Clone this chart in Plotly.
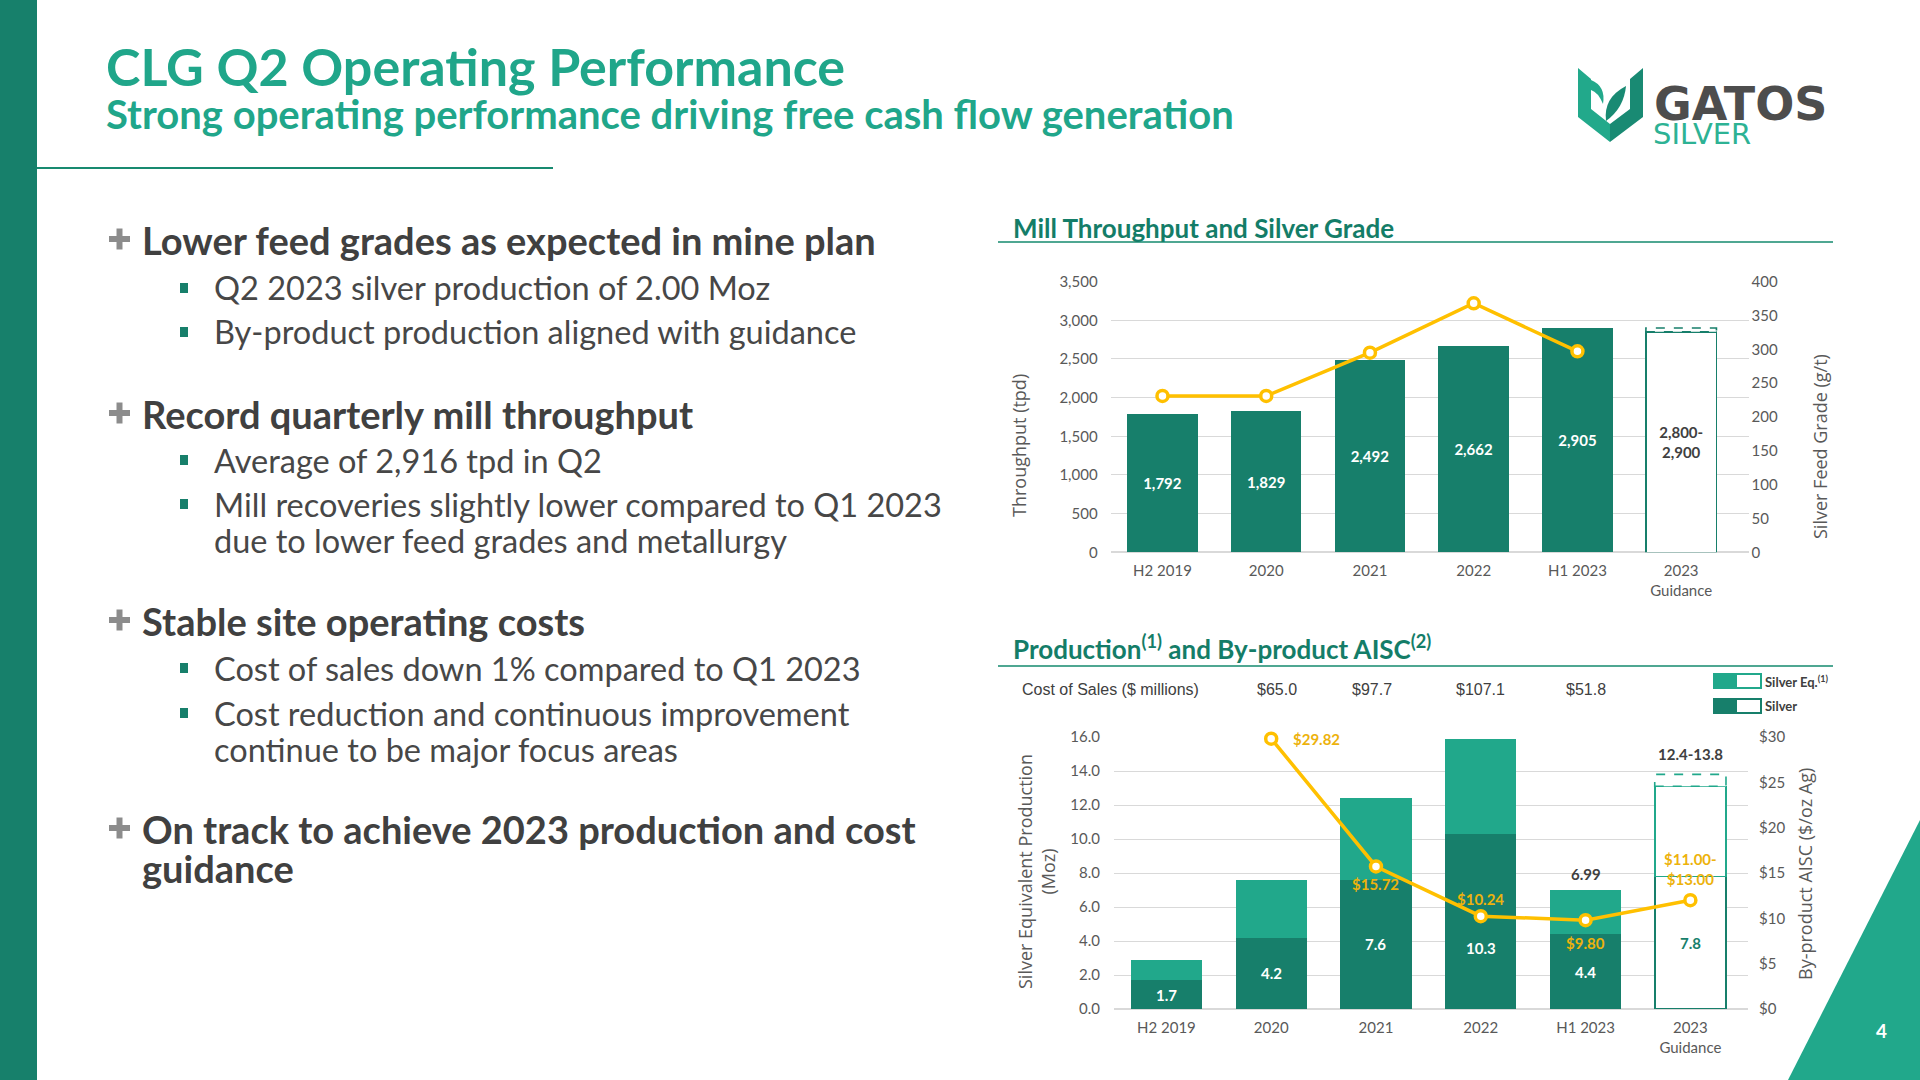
import plotly.graph_objects as go

W, H = 1920, 1080

# ---------------- data ----------------
categories = ["H2 2019", "2020", "2021", "2022", "H1 2023", "2023 Guidance"]
cat_ticktext = ["H2 2019", "2020", "2021", "2022", "H1 2023", "2023<br>Guidance"]

throughput = [1792, 1829, 2492, 2662, 2905]          # tpd
throughput_guidance = [2800, 2900]
silver_grade = [231, 231, 295, 368, 297]             # g/t

silver_eq = [2.9, 7.6, 12.4, 15.9, 6.99]             # Moz
silver = [1.7, 4.2, 7.6, 10.3, 4.4]                  # Moz
silver_eq_guidance = [12.4, 13.8]
silver_guidance = 7.8

aisc_cats = ["2020", "2021", "2022", "H1 2023"]
aisc = [29.82, 15.72, 10.24, 9.80]                   # $/oz Ag
aisc_guidance = [11.00, 13.00]

cost_cats = ["2020", "2021", "2022", "H1 2023"]
cost_of_sales = [65.0, 97.7, 107.1, 51.8]            # $ millions

# ---------------- styles ----------------
DARK = "#177F6B"
LIGHT = "#21A88B"
GOLD = "#FFC000"
GOLD_TXT = "#EDB20C"
GRID = "#D9D9D9"
AX_TXT = "#595959"
BODY = "#404040"
FONT = "Lato, sans-serif"
BAR_W = 0.68


def px(x):
    return x / W


def py(y):
    return 1 - y / H


def ci(c):
    return categories.index(c)


fig = go.Figure()

# ---------------- top chart ----------------
tp_mid = sum(throughput_guidance) / 2
top_y = throughput + [tp_mid]
top_text = [f"{v:,}" for v in throughput] + [f"{throughput_guidance[0]:,}-<br>{throughput_guidance[1]:,}"]
n = len(throughput)
fig.add_trace(go.Bar(
    x=list(range(len(categories))), y=top_y, width=BAR_W, xaxis="x", yaxis="y",
    marker=dict(color=[DARK] * n + ["white"],
                line=dict(color=[DARK] * (n + 1), width=[0] * n + [1.6])),
    text=top_text, textposition="inside", insidetextanchor="middle", textangle=0,
    textfont=dict(family=FONT, size=15, weight="bold", color=["white"] * n + [BODY]),
    showlegend=False, hoverinfo="skip"))

fig.add_trace(go.Scatter(
    x=list(range(len(silver_grade))), y=silver_grade, xaxis="x", yaxis="y2",
    mode="lines+markers", line=dict(color=GOLD, width=3.5), cliponaxis=False,
    marker=dict(symbol="circle", size=11, color="white", line=dict(color=GOLD, width=3.5)),
    showlegend=False, hoverinfo="skip"))

# ---------------- bottom chart ----------------
seq_mid = sum(silver_eq_guidance) / 2
silver_all = silver + [silver_guidance]
rem_all = [round(t - s, 3) for t, s in zip(silver_eq, silver)] + [round(seq_mid - silver_guidance, 3)]
m = len(silver)
fig.add_trace(go.Bar(
    x=list(range(len(categories))), y=silver_all, width=BAR_W, xaxis="x2", yaxis="y3",
    marker=dict(color=[DARK] * m + ["white"],
                line=dict(color=[DARK] * (m + 1), width=[0] * m + [1.6])),
    showlegend=False, hoverinfo="skip"))
fig.add_trace(go.Bar(
    x=list(range(len(categories))), y=rem_all, width=BAR_W, xaxis="x2", yaxis="y3",
    marker=dict(color=[LIGHT] * m + ["white"],
                line=dict(color=[LIGHT] * (m + 1), width=[0] * m + [1.6])),
    showlegend=False, hoverinfo="skip"))

aisc_mid = sum(aisc_guidance) / 2
fig.add_trace(go.Scatter(
    x=[ci(c) for c in aisc_cats] + [ci(categories[-1])], y=aisc + [aisc_mid], xaxis="x2", yaxis="y4",
    mode="lines+markers", line=dict(color=GOLD, width=3.5), cliponaxis=False,
    marker=dict(symbol="circle", size=11, color="white", line=dict(color=GOLD, width=3.5)),
    showlegend=False, hoverinfo="skip"))

shapes = []
annotations = []


def ann(**kw):
    kw.setdefault("showarrow", False)
    kw.setdefault("xanchor", "center")
    kw.setdefault("yanchor", "middle")
    kw.setdefault("xref", "paper")
    kw.setdefault("yref", "paper")
    annotations.append(kw)


# dashed guidance extensions
gi = len(categories) - 1
shapes.append(dict(type="rect", xref="x", yref="y", x0=gi - BAR_W / 2, x1=gi + BAR_W / 2,
                   y0=tp_mid, y1=throughput_guidance[1],
                   line=dict(color=DARK, width=1.6, dash="dash"), fillcolor="white"))
shapes.append(dict(type="rect", xref="x2", yref="y3", x0=gi - BAR_W / 2, x1=gi + BAR_W / 2,
                   y0=seq_mid, y1=silver_eq_guidance[1],
                   line=dict(color=LIGHT, width=1.6, dash="dash"), fillcolor="white"))

# silver labels
label_nudge = {"2022": -27}
for c, s in zip(categories, silver_all):
    ann(x=ci(c), y=s / 2, xref="x2", yref="y3", text=f"<b>{s:.1f}</b>",
        yshift=label_nudge.get(c, 0),
        font=dict(family=FONT, size=15, color=DARK if c == categories[-1] else "white"))
ann(x=ci(categories[4]), y=silver_eq[4], xref="x2", yref="y3",
    text=f"<b>{silver_eq[4]:.2f}</b>", yanchor="bottom", yshift=5,
    font=dict(family=FONT, size=15, color=BODY))
ann(x=gi, y=silver_eq_guidance[1], xref="x2", yref="y3",
    text=f"<b>{silver_eq_guidance[0]}-{silver_eq_guidance[1]}</b>",
    yanchor="bottom", yshift=9, font=dict(family=FONT, size=15, color=BODY))

# AISC labels
aisc_off = {"2020": (20, 0, "left"), "2021": (0, -18, "center"), "2022": (0, 17, "center"),
            "H1 2023": (0, -23, "center")}
for c, v in zip(aisc_cats, aisc):
    xs, ys, xa = aisc_off[c]
    ann(x=ci(c), y=v, xref="x2", yref="y4", text=f"<b>${v:.2f}</b>",
        xanchor=xa, xshift=xs, yshift=ys, font=dict(family=FONT, size=15, color=GOLD_TXT))
ann(x=gi, y=aisc_mid, xref="x2", yref="y4",
    text=f"<b>${aisc_guidance[0]:.2f}-<br>${aisc_guidance[1]:.2f}</b>",
    yshift=31, font=dict(family=FONT, size=15, color=GOLD_TXT))

# cost of sales row
ann(x=px(1020), y=py(689), xanchor="left", text="Cost of Sales ($ millions)",
    font=dict(family="Liberation Sans, Arial", size=16, color=BODY))
cost_shift = {"2020": 6, "2021": -4}
for c, v in zip(cost_cats, cost_of_sales):
    ann(x=ci(c), y=py(689), xref="x2", text=f"${v:.1f}", xshift=cost_shift.get(c, 0),
        font=dict(family="Liberation Sans, Arial", size=16, color=BODY))

# legend (custom)
for (yy, col, lab) in [(681, LIGHT, "Silver Eq.<sup>(1)</sup>"), (706, DARK, "Silver")]:
    shapes.append(dict(type="rect", xref="paper", yref="paper", x0=px(1714), x1=px(1737),
                       y0=py(yy + 7), y1=py(yy - 7), fillcolor=col, line=dict(width=0)))
    shapes.append(dict(type="rect", xref="paper", yref="paper", x0=px(1714), x1=px(1761),
                       y0=py(yy + 7), y1=py(yy - 7), fillcolor="rgba(0,0,0,0)", line=dict(color=col, width=2)))
    ann(x=px(1763), y=py(yy), xanchor="left", text=f"<b>{lab}</b>",
        font=dict(family=FONT, size=13, color=BODY))

# axis titles
for (x, y, t) in [(1019, 446, "Throughput (tpd)"), (1820, 447, "Silver Feed Grade (g/t)"),
                  (1036, 872, "Silver Equivalent Production<br>(Moz)"), (1805, 874, "By-product AISC ($/oz Ag)")]:
    ann(x=px(x), y=py(y), text=t, textangle=-90,
        font=dict(family="Open Sans, sans-serif", size=18, color=AX_TXT))

# chart headings + underlines
ann(x=px(1011), y=py(228), xanchor="left", text="<b>Mill Throughput and Silver Grade</b>",
    font=dict(family=FONT, size=26, color="#147D68"))
ann(x=px(1011), y=py(647), xanchor="left",
    text="<b>Production<sup>(1)</sup> and By-product AISC<sup>(2)</sup></b>",
    font=dict(family=FONT, size=26, color="#147D68"))
for yy in (242, 666):
    shapes.append(dict(type="line", xref="paper", yref="paper", x0=px(998), x1=px(1833), y0=py(yy), y1=py(yy),
                       line=dict(color="#4FA792", width=2)))

# ---------------- slide decoration ----------------
shapes.append(dict(type="rect", xref="paper", yref="paper", x0=0, x1=px(37), y0=0, y1=1,
                   fillcolor="#17806B", line=dict(width=0)))
shapes.append(dict(type="line", xref="paper", yref="paper", x0=px(37), x1=px(553), y0=py(168), y1=py(168),
                   line=dict(color="#188A70", width=2)))
ann(x=px(104), y=py(66), xanchor="left", text="<b>CLG Q2 Operating Performance</b>",
    font=dict(family=FONT, size=52, color="#20A68A"))
ann(x=px(104), y=py(114), xanchor="left",
    text="<b>Strong operating performance driving free cash flow generation</b>",
    font=dict(family=FONT, size=40, color="#20A68A"))


def path(pts):
    return "M " + " L ".join(f"{px(x):.5f},{py(y):.5f}" for x, y in pts) + " Z"


# logo
shapes.append(dict(type="path", xref="paper", yref="paper", fillcolor="#22A98B", line=dict(width=0),
                   path=path([(1578, 68), (1591, 79), (1591, 109), (1610, 124), (1610, 142), (1578, 117)])))
shapes.append(dict(type="path", xref="paper", yref="paper", fillcolor="#198A73", line=dict(width=0),
                   path=path([(1643, 68), (1630, 79), (1630, 109), (1610, 124), (1610, 142), (1643, 117)])))
shapes.append(dict(type="path", xref="paper", yref="paper", fillcolor="#198A73", line=dict(width=0),
                   path=f"M {px(1606):.5f},{py(121):.5f} Q {px(1603):.5f},{py(98):.5f} {px(1626):.5f},{py(86):.5f} "
                        f"Q {px(1624):.5f},{py(108):.5f} {px(1606):.5f},{py(121):.5f} Z"))
shapes.append(dict(type="path", xref="paper", yref="paper", fillcolor="#22A98B", line=dict(width=0),
                   path=f"M {px(1591):.5f},{py(80):.5f} Q {px(1606):.5f},{py(86):.5f} {px(1603):.5f},{py(104):.5f} "
                        f"Q {px(1598):.5f},{py(92):.5f} {px(1591):.5f},{py(90):.5f} Z"))
ann(x=px(1652), y=py(104), xanchor="left", text="<b>GATOS</b>",
    font=dict(family="DejaVu Sans", size=46, color="#4D4D4D"))
ann(x=px(1651), y=py(134), xanchor="left", text="SILVER",
    font=dict(family="DejaVu Sans", size=29, color="#2DB294"))

# page number triangle
shapes.append(dict(type="path", xref="paper", yref="paper", fillcolor="#21A88B", line=dict(width=0),
                   path=path([(1920, 820), (1788, 1080), (1920, 1080)])))
ann(x=px(1881), y=py(1030), text="<b>4</b>", font=dict(family=FONT, size=19, color="white"))

# ---------------- left text ----------------
headings = [(240, ["Lower feed grades as expected in mine plan"]),
            (414, ["Record quarterly mill throughput"]),
            (621, ["Stable site operating costs"]),
            (829, ["On track to achieve 2023 production and cost", "guidance"])]
bullets = [(288, ["Q2 2023 silver production of 2.00 Moz"]),
           (332, ["By-product production aligned with guidance"]),
           (460, ["Average of 2,916 tpd in Q2"]),
           (504, ["Mill recoveries slightly lower compared to Q1 2023", "due to lower feed grades and metallurgy"]),
           (668, ["Cost of sales down 1% compared to Q1 2023"]),
           (713, ["Cost reduction and continuous improvement", "continue to be major focus areas"])]
for y0, lines in headings:
    cx, cy = 119.5, y0 - 1
    shapes.append(dict(type="rect", xref="paper", yref="paper", x0=px(cx - 10.5), x1=px(cx + 10.5),
                       y0=py(cy + 3), y1=py(cy - 3), fillcolor="#8C8C8C", line=dict(width=0)))
    shapes.append(dict(type="rect", xref="paper", yref="paper", x0=px(cx - 3), x1=px(cx + 3),
                       y0=py(cy + 10.5), y1=py(cy - 10.5), fillcolor="#8C8C8C", line=dict(width=0)))
    for k, ln in enumerate(lines):
        ann(x=px(140), y=py(y0 + k * 39), xanchor="left", text=f"<b>{ln}</b>",
            font=dict(family=FONT, size=38, color=BODY))
for y0, lines in bullets:
    shapes.append(dict(type="rect", xref="paper", yref="paper", x0=px(180), x1=px(188),
                       y0=py(y0 + 5), y1=py(y0 - 5), fillcolor=DARK, line=dict(width=0)))
    for k, ln in enumerate(lines):
        ann(x=px(212), y=py(y0 + k * 36), xanchor="left", text=ln,
            font=dict(family=FONT, size=32.5, color="#474747"))

# ---------------- layout ----------------
tickfont = dict(family=FONT, size=15, color=AX_TXT)
idx = list(range(len(categories)))
fig.update_layout(
    width=W, height=H, margin=dict(l=0, r=0, t=0, b=0, autoexpand=False),
    paper_bgcolor="white", plot_bgcolor="white",
    barmode="stack", showlegend=False,
    shapes=shapes, annotations=annotations,
    xaxis=dict(domain=[px(1110.6), px(1748.6)], anchor="y", type="linear", range=[-0.5, 5.65],
               tickvals=idx, ticktext=cat_ticktext, tickfont=tickfont, showgrid=False, zeroline=False,
               showline=False, ticks="", ticklabelstandoff=8),
    yaxis=dict(domain=[py(552.3), py(281.6)], anchor="x", range=[0, 3500], dtick=500, tickformat=",",
               gridcolor=GRID, zeroline=True, zerolinecolor=GRID, tickfont=tickfont, ticklabelstandoff=12),
    yaxis2=dict(overlaying="y", anchor="x", side="right", range=[0, 400], dtick=50, showgrid=False,
                zeroline=False, tickfont=tickfont, ticklabelstandoff=2),
    xaxis2=dict(domain=[px(1114), px(1748)], anchor="y3", type="linear", range=[-0.5, 5.55],
                tickvals=idx, ticktext=cat_ticktext, tickfont=tickfont, showgrid=False, zeroline=False,
                showline=False, ticks="", ticklabelstandoff=8),
    yaxis3=dict(domain=[py(1009), py(737)], anchor="x2", range=[0, 16], dtick=2, tickformat=".1f",
                gridcolor=GRID, zeroline=True, zerolinecolor=GRID, tickfont=tickfont, ticklabelstandoff=13),
    yaxis4=dict(overlaying="y3", anchor="x2", side="right", range=[0, 30], dtick=5, tickprefix="$",
                showgrid=False, zeroline=False, tickfont=tickfont, ticklabelstandoff=10),
)

fig.write_html(
    "out.html", config={"displayModeBar": False},
    post_script=("var gd=document.getElementById('{plot_id}');gd.style.position='fixed';"
                 "gd.style.left='0px';gd.style.top='0px';document.body.style.margin='0';"
                 "document.body.style.overflow='hidden';document.documentElement.style.overflow='hidden';"))
